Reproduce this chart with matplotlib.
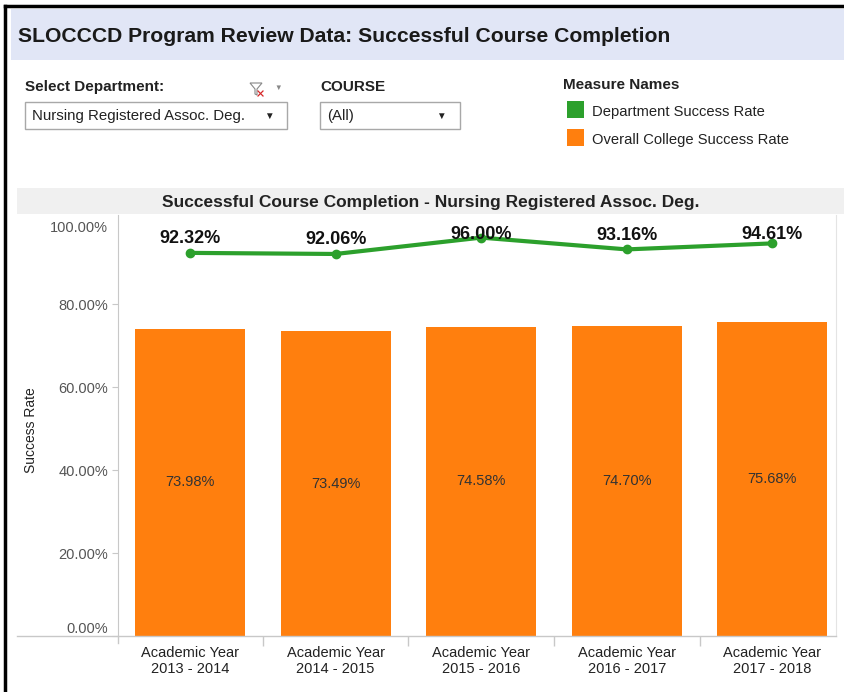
import matplotlib
matplotlib.use("Agg")
import matplotlib.pyplot as plt
from matplotlib.patches import Rectangle, Polygon
from matplotlib.lines import Line2D

plt.rcParams['font.family'] = ['Liberation Sans', 'DejaVu Sans']

# data
years = ["Academic Year\n2013 - 2014", "Academic Year\n2014 - 2015", "Academic Year\n2015 - 2016",
         "Academic Year\n2016 - 2017", "Academic Year\n2017 - 2018"]
dept_rate = [92.32, 92.06, 96.00, 93.16, 94.61]
college_rate = [73.98, 73.49, 74.58, 74.70, 75.68]
y_ticks = [0, 20, 40, 60, 80, 100]

GREEN = '#2ca02c'
ORANGE = '#ff7f0e'
W, H = 845, 692


def fx(x):
    return x / W


def fy(y):
    return 1 - y / H


fig = plt.figure(figsize=(W / 100, H / 100), dpi=100)

# outer frame (left + top)
fig.add_artist(Line2D([fx(5), fx(5)], [0, fy(6)], color='black', lw=2.5))
fig.add_artist(Line2D([fx(5), 1], [fy(6), fy(6)], color='black', lw=2.5))

# title band
fig.add_artist(Rectangle((fx(11), fy(60)), 1 - fx(11), (60 - 9) / H, facecolor='#e1e6f6', edgecolor='none'))
fig.text(fx(18), fy(37), "SLOCCCD Program Review Data: Successful Course Completion",
         fontsize=15.2, fontweight='bold', color='#1a1a1a', va='center', ha='left')

# filters
fig.text(fx(25), fy(87), "Select Department:", fontsize=11, fontweight='bold', va='center', color='#222222')
# little funnel icon with red x
fig.add_artist(Polygon([(fx(250), fy(83)), (fx(262), fy(83)), (fx(257), fy(89)), (fx(257), fy(95)),
                        (fx(255), fy(94)), (fx(255), fy(89))], closed=True,
                       facecolor='none', edgecolor='#888888', lw=0.8))
fig.add_artist(Line2D([fx(258), fx(263)], [fy(91), fy(96)], color='#d62728', lw=0.9))
fig.add_artist(Line2D([fx(258), fx(263)], [fy(96), fy(91)], color='#d62728', lw=0.9))
fig.text(fx(274), fy(88), "\u25bc", fontsize=5.5, color='#888888', va='center')
fig.add_artist(Rectangle((fx(25), fy(129)), (287 - 25) / W, 27 / H, facecolor='white', edgecolor='#a8a8a8', lw=1))
fig.text(fx(32), fy(116), "Nursing Registered Assoc. Deg.", fontsize=10.8, va='center', color='#222222')
fig.text(fx(264), fy(116), "\u25bc", fontsize=7, va='center', color='#222222')

fig.text(fx(320), fy(87), "COURSE", fontsize=11, fontweight='bold', va='center', color='#222222')
fig.add_artist(Rectangle((fx(320), fy(129)), (460 - 320) / W, 27 / H, facecolor='white', edgecolor='#a8a8a8', lw=1))
fig.text(fx(327), fy(116), "(All)", fontsize=10.8, va='center', color='#222222')
fig.text(fx(436), fy(116), "\u25bc", fontsize=7, va='center', color='#222222')

# legend
fig.text(fx(563), fy(85), "Measure Names", fontsize=11, fontweight='bold', va='center', color='#222222')
fig.add_artist(Rectangle((fx(567), fy(118)), 17 / W, 17 / H, facecolor=GREEN, edgecolor='none'))
fig.text(fx(592), fy(112), "Department Success Rate", fontsize=10.6, va='center', color='#222222')
fig.add_artist(Rectangle((fx(567), fy(146)), 17 / W, 17 / H, facecolor=ORANGE, edgecolor='none'))
fig.text(fx(592), fy(140), "Overall College Success Rate", fontsize=10.6, va='center', color='#222222')

# chart header band
fig.add_artist(Rectangle((fx(17), fy(214)), 1 - fx(17), 26 / H, facecolor='#f0f0f0', edgecolor='none'))
fig.text(fx(431), fy(202), "Successful Course Completion - Nursing Registered Assoc. Deg.",
         fontsize=12.5, fontweight='bold', ha='center', va='center', color='#222222')

# chart
ax = fig.add_axes([fx(118), fy(636), (836 - 118) / W, (636 - 215) / H])
x = list(range(len(years)))
ax.bar(x, college_rate, width=0.755, color=ORANGE, zorder=2)
ax.plot(x, dept_rate, color=GREEN, lw=3, marker='o', markersize=6, zorder=3)

for xi, v in zip(x, college_rate):
    ax.text(xi, v / 2, f"{v:.2f}%", ha='center', va='center', fontsize=10.5, color='#333333', zorder=4)
for xi, v in zip(x, dept_rate):
    ax.text(xi, min(v + 3.4, 96.8), f"{v:.2f}%", ha='center', va='center', fontsize=13,
            fontweight='bold', color='#111111', zorder=4)

ax.set_xlim(-0.4945, 4.437)
ax.set_ylim(0, 101.45)
ax.set_xticks(x)
ax.set_xticklabels(years, fontsize=10.5, color='#222222', linespacing=1.25)
ax.set_xticks([i + 0.5 for i in range(4)], minor=True)
ax.tick_params(axis='x', which='major', length=0, pad=7)
ax.tick_params(axis='x', which='minor', length=7, color='#c8c8c8', width=1)

ax.set_yticks(y_ticks)
ax.set_yticklabels([f"{t:.2f}%" for t in y_ticks], fontsize=10.5, color='#555555')
ax.tick_params(axis='y', length=4, color='#c8c8c8', pad=3)
labels = ax.get_yticklabels()
labels[0].set_va('bottom')
labels[-1].set_va('top')
ax.yaxis.get_major_ticks()[-1].tick1line.set_visible(False)

ax.spines['top'].set_visible(False)
ax.spines['left'].set_color('#c8c8c8')
ax.spines['right'].set_color('#e4e4e4')
ax.spines['bottom'].set_visible(False)

# baseline and axis extension
fig.add_artist(Line2D([fx(17), fx(836)], [fy(636), fy(636)], color='#c8c8c8', lw=1))
fig.add_artist(Line2D([fx(118), fx(118)], [fy(636), fy(643)], color='#c8c8c8', lw=1))

fig.text(fx(31), fy(430), "Success Rate", rotation=90, fontsize=10, ha='center', va='center', color='#222222')

fig.savefig("out.png", dpi=100)
